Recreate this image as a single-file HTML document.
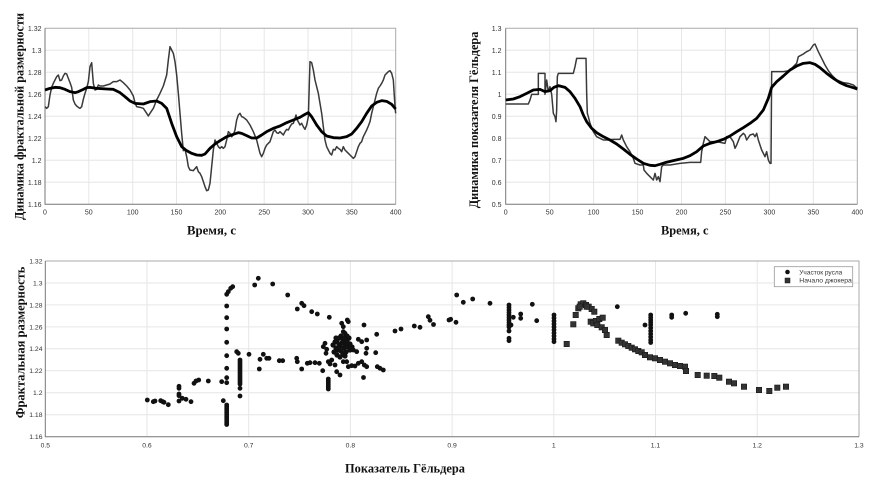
<!DOCTYPE html>
<html><head><meta charset="utf-8"><style>
html,body{margin:0;padding:0;background:#fff;}
svg{display:block;}
.tk{font-family:"Liberation Sans",Arial,sans-serif;font-size:7px;fill:#333;}
.ttl{font-family:"Liberation Serif","Times New Roman",serif;font-weight:bold;font-size:13px;fill:#111;}
.g{stroke:#e6e6e6;stroke-width:1;fill:none;}
.ln{vector-effect:non-scaling-stroke;fill:none;stroke-linejoin:round;}
</style></head><body>
<svg width="870" height="488" viewBox="0 0 870 488" xmlns="http://www.w3.org/2000/svg">
<rect width="870" height="488" fill="#fff"/>

<!-- ===== Top-left chart ===== -->
<g class="g">
<path d="M88.8 28.3V204.3M132.7 28.3V204.3M176.5 28.3V204.3M220.3 28.3V204.3M264.2 28.3V204.3M308 28.3V204.3M351.8 28.3V204.3"/>
<path d="M45 50.3H395.7M45 72.3H395.7M45 94.3H395.7M45 116.3H395.7M45 138.3H395.7M45 160.3H395.7M45 182.3H395.7"/>
</g>
<path d="M45 28.3H395.7V204.3" fill="none" stroke="#aaa" stroke-width="1"/>
<path d="M45 28.3V204.3H395.7" fill="none" stroke="#777" stroke-width="1"/>
<g class="tk" text-anchor="end">
<text x="41.5" y="30.8">1.32</text><text x="41.5" y="52.8">1.3</text><text x="41.5" y="74.8">1.28</text><text x="41.5" y="96.8">1.26</text><text x="41.5" y="118.8">1.24</text><text x="41.5" y="140.8">1.22</text><text x="41.5" y="162.8">1.2</text><text x="41.5" y="184.8">1.18</text><text x="41.5" y="206.8">1.16</text>
</g>
<g class="tk" text-anchor="middle">
<text x="45" y="214.5">0</text><text x="88.8" y="214.5">50</text><text x="132.7" y="214.5">100</text><text x="176.5" y="214.5">150</text><text x="220.3" y="214.5">200</text><text x="264.2" y="214.5">250</text><text x="308" y="214.5">300</text><text x="351.8" y="214.5">350</text><text x="395.7" y="214.5">400</text>
</g>
<text class="ttl" x="187" y="234.5" textLength="49" lengthAdjust="spacingAndGlyphs">Время, с</text>
<text class="ttl" transform="translate(23.5,220) rotate(-90)" x="0" y="0" textLength="207" lengthAdjust="spacingAndGlyphs">Динамика фрактальной размерности</text>

<g transform="scale(0.333333)">
<polyline class="ln" stroke="#3a3a3a" stroke-width="1.5" points="135,320 140,325 145,320 150,285 155,262 160,250 165,240 170,230 175,225 180,242 185,240 190,228 195,220 200,222 205,235 210,248 215,262 220,300 225,312 230,318 235,322 240,325 245,320 250,298 255,280 260,265 265,245 270,200 275,188 280,250 285,270 290,268 295,255 300,258 310,258 320,255 330,252 340,245 350,245 360,240 370,248 380,258 390,270 400,288 405,308 410,320 420,322 430,325 440,340 445,348 450,340 460,325 470,300 480,280 490,258 500,225 505,180 510,140 515,150 520,160 525,185 530,225 535,280 540,340 545,400 550,452 555,448 560,470 565,500 570,510 580,512 590,500 595,515 600,520 605,530 610,545 615,560 620,572 625,570 630,550 635,500 640,450 645,420 650,430 655,440 660,445 665,440 670,445 675,440 680,420 685,395 690,400 695,410 700,405 705,390 710,360 715,345 720,340 725,350 730,352 740,360 750,375 760,395 770,420 775,440 780,460 785,470 790,460 795,445 800,435 805,430 810,425 815,410 820,395 825,390 830,398 835,400 840,395 845,400 850,405 855,395 860,388 865,390 870,380 875,372 880,370 885,355 888,345 892,360 900,375 905,370 910,380 915,388 920,375 925,350 928,250 930,185 935,188 940,210 945,240 950,260 955,280 960,310 965,340 970,380 975,420 980,440 985,450 990,460 995,465 1000,448 1005,450 1010,440 1015,445 1020,448 1025,455 1030,440 1035,450 1040,455 1045,460 1050,465 1055,470 1060,475 1065,470 1070,455 1075,440 1080,430 1085,425 1090,410 1095,400 1100,390 1105,378 1110,365 1115,340 1120,320 1125,300 1130,280 1135,265 1140,258 1145,250 1150,240 1155,225 1160,220 1165,215 1170,212 1175,220 1180,240 1185,320 1187,340"/>
<polyline class="ln" stroke="#000" stroke-width="2.8" points="135,270 150,265 165,262 180,263 195,268 210,275 225,278 235,275 250,268 260,263 270,262 290,265 320,267 340,268 360,278 375,290 390,303 405,310 430,312 450,305 470,303 485,310 500,325 515,370 530,410 545,440 560,452 575,460 590,465 605,466 615,462 630,445 645,432 660,422 680,410 700,403 715,398 725,400 740,407 755,414 770,414 785,405 800,395 820,385 840,378 860,368 880,360 900,352 915,343 925,338 935,350 950,375 965,395 980,408 1000,413 1020,414 1040,410 1055,402 1070,385 1085,365 1100,340 1115,318 1130,307 1145,302 1160,304 1175,313 1187,327"/>
</g>

<!-- ===== Top-right chart ===== -->
<g class="g">
<path d="M549.7 28.3V204.3M593.6 28.3V204.3M637.6 28.3V204.3M681.5 28.3V204.3M725.4 28.3V204.3M769.4 28.3V204.3M813.3 28.3V204.3"/>
<path d="M505.7 50.3H857.3M505.7 72.3H857.3M505.7 94.3H857.3M505.7 116.3H857.3M505.7 138.3H857.3M505.7 160.3H857.3M505.7 182.3H857.3"/>
</g>
<path d="M505.7 28.3H857.3V204.3" fill="none" stroke="#aaa" stroke-width="1"/>
<path d="M505.7 28.3V204.3H857.3" fill="none" stroke="#777" stroke-width="1"/>
<g class="tk" text-anchor="end">
<text x="501.5" y="30.8">1.3</text><text x="501.5" y="52.8">1.2</text><text x="501.5" y="74.8">1.1</text><text x="501.5" y="96.8">1</text><text x="501.5" y="118.8">0.9</text><text x="501.5" y="140.8">0.8</text><text x="501.5" y="162.8">0.7</text><text x="501.5" y="184.8">0.6</text><text x="501.5" y="206.8">0.5</text>
</g>
<g class="tk" text-anchor="middle">
<text x="505.7" y="214.5">0</text><text x="549.7" y="214.5">50</text><text x="593.6" y="214.5">100</text><text x="637.6" y="214.5">150</text><text x="681.5" y="214.5">200</text><text x="725.4" y="214.5">250</text><text x="769.4" y="214.5">300</text><text x="813.3" y="214.5">350</text><text x="857.3" y="214.5">400</text>
</g>
<text class="ttl" x="661" y="234.5" textLength="47.5" lengthAdjust="spacingAndGlyphs">Время, с</text>
<text class="ttl" transform="translate(478,208.3) rotate(-90)" x="0" y="0" textLength="176.7" lengthAdjust="spacingAndGlyphs">Динамика показателя Гёльдера</text>

<g transform="translate(450,0) scale(0.333333)">
<polyline class="ln" stroke="#3a3a3a" stroke-width="1.5" points="167,312 235,312 240,300 245,283 265,283 265,220 285,220 285,283 290,240 295,275 300,260 305,283 310,340 315,350 318,365 320,330 322,230 325,220 370,220 375,200 380,175 405,175 408,175 410,280 412,340 415,350 420,370 430,395 440,410 450,415 460,420 475,420 490,418 510,418 515,405 520,420 530,440 540,455 550,475 555,490 570,495 580,495 582,510 590,520 600,530 610,540 615,520 620,540 625,530 630,545 635,500 640,495 660,495 690,490 720,487 752,487 755,455 760,430 765,410 770,415 780,425 800,425 825,430 830,410 840,410 850,425 855,445 860,435 870,410 880,400 885,405 890,420 900,405 910,402 915,410 920,400 925,420 935,450 945,470 950,455 955,480 960,490 963,490 965,215 1000,215 1020,212 1030,200 1040,190 1045,170 1060,162 1070,155 1080,150 1090,135 1095,132 1105,155 1115,175 1125,195 1135,212 1145,225 1160,240 1180,248 1195,250 1210,255 1222,265"/>
<polyline class="ln" stroke="#000" stroke-width="2.8" points="167,300 190,297 210,290 230,280 250,270 270,268 285,275 300,272 312,262 325,257 345,262 360,275 375,295 390,320 400,345 410,365 425,385 440,398 460,410 480,420 500,432 520,447 540,463 560,477 580,490 600,496 615,497 630,493 645,488 670,482 700,475 720,467 740,455 760,438 780,430 800,425 820,418 840,408 860,395 880,383 900,370 920,355 940,330 955,295 965,262 980,245 1000,228 1020,210 1040,198 1060,190 1080,188 1095,193 1110,203 1130,220 1150,235 1170,248 1190,257 1210,263 1222,267"/>
</g>

<!-- ===== Bottom scatter chart ===== -->
<g class="g">
<path d="M147 261V436.7M248.7 261V436.7M350.4 261V436.7M452.1 261V436.7M553.8 261V436.7M655.5 261V436.7M757.2 261V436.7"/>
<path d="M45.3 283H859M45.3 304.9H859M45.3 326.9H859M45.3 348.8H859M45.3 370.8H859M45.3 392.8H859M45.3 414.7H859"/>
</g>
<path d="M45.3 261H859V436.7" fill="none" stroke="#aaa" stroke-width="1"/>
<path d="M45.3 261V436.7H859" fill="none" stroke="#777" stroke-width="1"/>
<g class="tk" text-anchor="end" style="font-size:6.8px">
<text x="42.5" y="263.4">1.32</text><text x="42.5" y="285.4">1.3</text><text x="42.5" y="307.3">1.28</text><text x="42.5" y="329.3">1.26</text><text x="42.5" y="351.2">1.24</text><text x="42.5" y="373.2">1.22</text><text x="42.5" y="395.2">1.2</text><text x="42.5" y="417.1">1.18</text><text x="42.5" y="439.1">1.16</text>
</g>
<g class="tk" text-anchor="middle" style="font-size:6.8px">
<text x="45.3" y="447.5">0.5</text><text x="147" y="447.5">0.6</text><text x="248.7" y="447.5">0.7</text><text x="350.4" y="447.5">0.8</text><text x="452.1" y="447.5">0.9</text><text x="553.8" y="447.5">1</text><text x="655.5" y="447.5">1.1</text><text x="757.2" y="447.5">1.2</text><text x="859" y="447.5">1.3</text>
</g>
<text class="ttl" x="345" y="472.5" textLength="120" lengthAdjust="spacingAndGlyphs">Показатель Гёльдера</text>
<text class="ttl" transform="translate(24.5,418.3) rotate(-90)" x="0" y="0" textLength="151.7" lengthAdjust="spacingAndGlyphs">Фрактальная размерность</text>

<!-- circles -->
<g fill="#111">
<circle cx="147.3" cy="400" r="2.4"/><circle cx="153.3" cy="401.7" r="2.4"/><circle cx="155" cy="401" r="2.4"/><circle cx="160.7" cy="400.7" r="2.4"/><circle cx="162.7" cy="401.7" r="2.4"/><circle cx="164" cy="402.3" r="2.4"/><circle cx="168.3" cy="404.7" r="2.4"/>
<circle cx="179" cy="386.3" r="2.4"/><circle cx="179" cy="388.3" r="2.4"/><circle cx="179" cy="394" r="2.4"/><circle cx="179" cy="395.7" r="2.4"/><circle cx="179" cy="401" r="2.4"/><circle cx="182.3" cy="398.3" r="2.4"/><circle cx="186" cy="399.3" r="2.4"/><circle cx="191" cy="401.7" r="2.4"/>
<circle cx="194" cy="383.3" r="2.4"/><circle cx="196" cy="381" r="2.4"/><circle cx="198.7" cy="380" r="2.4"/><circle cx="208.3" cy="381" r="2.4"/><circle cx="221.7" cy="381.7" r="2.4"/>
<circle cx="226.7" cy="377.7" r="2.4"/><circle cx="226.7" cy="382.7" r="2.4"/><circle cx="226.7" cy="368.3" r="2.4"/><circle cx="226.7" cy="355.7" r="2.4"/><circle cx="226.7" cy="342.3" r="2.4"/><circle cx="226.7" cy="329" r="2.4"/><circle cx="226.7" cy="317.7" r="2.4"/><circle cx="226.7" cy="306" r="2.4"/><circle cx="226.7" cy="294.3" r="2.4"/><circle cx="228.3" cy="291.7" r="2.4"/><circle cx="230.7" cy="288.3" r="2.4"/><circle cx="232.7" cy="286.7" r="2.4"/><circle cx="223.3" cy="400.7" r="2.4"/>
<circle cx="226.7" cy="405" r="2.4"/><circle cx="226.7" cy="407" r="2.4"/><circle cx="226.7" cy="409" r="2.4"/><circle cx="226.7" cy="411" r="2.4"/><circle cx="226.7" cy="413" r="2.4"/><circle cx="226.7" cy="415" r="2.4"/><circle cx="226.7" cy="417" r="2.4"/><circle cx="226.7" cy="419" r="2.4"/><circle cx="226.7" cy="421" r="2.4"/><circle cx="226.7" cy="423" r="2.4"/><circle cx="226.7" cy="424.5" r="2.4"/>
<circle cx="236.7" cy="351.7" r="2.4"/><circle cx="238.3" cy="353.3" r="2.4"/>
<circle cx="240" cy="360" r="2.4"/><circle cx="240" cy="362" r="2.4"/><circle cx="240" cy="364" r="2.4"/><circle cx="240" cy="366" r="2.4"/><circle cx="240" cy="368" r="2.4"/><circle cx="240" cy="370" r="2.4"/><circle cx="240" cy="372" r="2.4"/><circle cx="240" cy="374" r="2.4"/><circle cx="240" cy="376" r="2.4"/><circle cx="240" cy="378" r="2.4"/><circle cx="240" cy="380" r="2.4"/><circle cx="240" cy="382" r="2.4"/><circle cx="240" cy="384" r="2.4"/>
<circle cx="240" cy="388.3" r="2.4"/><circle cx="240" cy="396" r="2.4"/><circle cx="249" cy="354.3" r="2.4"/><circle cx="254.7" cy="285" r="2.4"/><circle cx="258.3" cy="278.3" r="2.4"/><circle cx="272.7" cy="284" r="2.4"/><circle cx="287.7" cy="295" r="2.4"/><circle cx="260" cy="359.3" r="2.4"/><circle cx="259.3" cy="369" r="2.4"/><circle cx="263.3" cy="354.3" r="2.4"/><circle cx="266.7" cy="358.3" r="2.4"/><circle cx="269" cy="358.3" r="2.4"/><circle cx="279.3" cy="360.7" r="2.4"/><circle cx="282.7" cy="360.7" r="2.4"/>
<!-- middle -->
<circle cx="297.3" cy="309" r="2.4"/><circle cx="301.7" cy="303.3" r="2.4"/><circle cx="304" cy="305.7" r="2.4"/><circle cx="311.7" cy="311.7" r="2.4"/><circle cx="317.3" cy="314" r="2.4"/><circle cx="329.3" cy="317.3" r="2.4"/>
<circle cx="341.7" cy="323.3" r="2.4"/><circle cx="343.3" cy="326.7" r="2.4"/><circle cx="347.3" cy="320" r="2.4"/><circle cx="348.3" cy="321.7" r="2.4"/><circle cx="343.3" cy="331.7" r="2.4"/><circle cx="345" cy="333.3" r="2.4"/><circle cx="364" cy="325" r="2.4"/><circle cx="376.7" cy="334.3" r="2.4"/>
<circle cx="395" cy="331" r="2.4"/><circle cx="401" cy="329" r="2.4"/><circle cx="414.3" cy="326" r="2.4"/><circle cx="420" cy="327.3" r="2.4"/><circle cx="428.3" cy="316.7" r="2.4"/><circle cx="430" cy="320.3" r="2.4"/><circle cx="433.5" cy="324.5" r="2.4"/>
<circle cx="333" cy="345" r="2.6"/><circle cx="335" cy="342" r="2.6"/><circle cx="337" cy="340" r="2.6"/><circle cx="339" cy="338" r="2.6"/><circle cx="341" cy="336" r="2.6"/><circle cx="343" cy="340" r="2.6"/><circle cx="345" cy="344" r="2.6"/><circle cx="347" cy="341" r="2.6"/><circle cx="349" cy="338" r="2.6"/><circle cx="336" cy="348" r="2.6"/><circle cx="338" cy="350" r="2.6"/><circle cx="340" cy="346" r="2.6"/><circle cx="342" cy="343" r="2.6"/><circle cx="344" cy="348" r="2.6"/><circle cx="346" cy="352" r="2.6"/><circle cx="348" cy="347" r="2.6"/><circle cx="350" cy="344" r="2.6"/><circle cx="334" cy="352" r="2.6"/><circle cx="337" cy="355" r="2.6"/><circle cx="340" cy="357" r="2.6"/><circle cx="343" cy="354" r="2.6"/><circle cx="341" cy="351" r="2.6"/><circle cx="345" cy="356" r="2.6"/><circle cx="339" cy="344" r="2.6"/><circle cx="347" cy="336" r="2.6"/><circle cx="350" cy="350" r="2.6"/><circle cx="352" cy="347" r="2.6"/><circle cx="344" cy="338" r="2.6"/><circle cx="336" cy="338" r="2.6"/>
<circle cx="325" cy="343.3" r="2.4"/><circle cx="323.3" cy="346.7" r="2.4"/><circle cx="326.7" cy="349.3" r="2.4"/><circle cx="326" cy="353.3" r="2.4"/><circle cx="358.3" cy="339.3" r="2.4"/><circle cx="361.7" cy="341.7" r="2.4"/><circle cx="366.7" cy="340" r="2.4"/><circle cx="353.3" cy="350" r="2.4"/><circle cx="356.7" cy="351.7" r="2.4"/><circle cx="366.7" cy="348.3" r="2.4"/><circle cx="366" cy="353.3" r="2.4"/><circle cx="375.7" cy="352.7" r="2.4"/>
<circle cx="296.7" cy="358.3" r="2.4"/><circle cx="297.3" cy="361.7" r="2.4"/><circle cx="301.7" cy="369" r="2.4"/><circle cx="307.3" cy="363.3" r="2.4"/><circle cx="310" cy="362.7" r="2.4"/><circle cx="315" cy="362.7" r="2.4"/><circle cx="319.3" cy="363.3" r="2.4"/><circle cx="322.7" cy="370.7" r="2.4"/><circle cx="328.3" cy="361.7" r="2.4"/><circle cx="331.7" cy="360" r="2.4"/><circle cx="330" cy="364" r="2.4"/><circle cx="335" cy="365" r="2.4"/>
<circle cx="328.3" cy="379" r="2.4"/><circle cx="328.3" cy="381" r="2.4"/><circle cx="328.3" cy="383" r="2.4"/><circle cx="328.3" cy="385" r="2.4"/><circle cx="328.3" cy="387" r="2.4"/><circle cx="328.3" cy="389" r="2.4"/>
<circle cx="336.7" cy="371.7" r="2.4"/><circle cx="340" cy="375" r="2.4"/><circle cx="343.3" cy="361.7" r="2.4"/><circle cx="346.7" cy="361.7" r="2.4"/><circle cx="348.3" cy="366.7" r="2.4"/><circle cx="351.7" cy="365.7" r="2.4"/><circle cx="355" cy="366" r="2.4"/><circle cx="358.3" cy="363.3" r="2.4"/><circle cx="361.7" cy="361.7" r="2.4"/><circle cx="364.3" cy="365" r="2.4"/><circle cx="366.7" cy="366.7" r="2.4"/><circle cx="363.5" cy="377.5" r="2.4"/><circle cx="377.3" cy="366.7" r="2.4"/><circle cx="380" cy="368.3" r="2.4"/><circle cx="383.3" cy="370" r="2.4"/>
<!-- right circles -->
<circle cx="456.7" cy="295" r="2.4"/><circle cx="463.3" cy="302.3" r="2.4"/><circle cx="472.7" cy="299" r="2.4"/><circle cx="490" cy="303.3" r="2.4"/><circle cx="449" cy="320" r="2.4"/><circle cx="450.7" cy="319.3" r="2.4"/><circle cx="456" cy="322.3" r="2.4"/>
<circle cx="509" cy="305" r="2.4"/><circle cx="509" cy="307.5" r="2.4"/><circle cx="509" cy="310" r="2.4"/><circle cx="509" cy="312.5" r="2.4"/><circle cx="509" cy="315" r="2.4"/><circle cx="509" cy="317.5" r="2.4"/><circle cx="509" cy="320" r="2.4"/><circle cx="509" cy="322.5" r="2.4"/><circle cx="509" cy="325" r="2.4"/><circle cx="509" cy="327" r="2.4"/><circle cx="509" cy="331" r="2.4"/><circle cx="509" cy="338.3" r="2.4"/><circle cx="509" cy="340.7" r="2.4"/>
<circle cx="513.3" cy="317.3" r="2.4"/><circle cx="511" cy="325" r="2.4"/><circle cx="520.7" cy="314" r="2.4"/><circle cx="520.7" cy="318.3" r="2.4"/><circle cx="532.3" cy="304.3" r="2.4"/><circle cx="536.7" cy="320.7" r="2.4"/>
<circle cx="554" cy="315" r="2.4"/><circle cx="554" cy="318" r="2.4"/><circle cx="554" cy="321" r="2.4"/><circle cx="554" cy="324" r="2.4"/><circle cx="554" cy="327" r="2.4"/><circle cx="554" cy="330" r="2.4"/><circle cx="554" cy="333" r="2.4"/><circle cx="554" cy="336" r="2.4"/><circle cx="554" cy="339" r="2.4"/><circle cx="554" cy="341.7" r="2.4"/>
<circle cx="617.3" cy="306.7" r="2.4"/><circle cx="645" cy="325" r="2.4"/>
<circle cx="650.7" cy="315" r="2.4"/><circle cx="650.7" cy="317.5" r="2.4"/><circle cx="650.7" cy="320" r="2.4"/><circle cx="650.7" cy="322.5" r="2.4"/><circle cx="650.7" cy="325" r="2.4"/><circle cx="650.7" cy="328" r="2.4"/><circle cx="650.7" cy="331" r="2.4"/><circle cx="650.7" cy="334" r="2.4"/><circle cx="650.7" cy="337" r="2.4"/><circle cx="650.7" cy="340" r="2.4"/><circle cx="650.7" cy="342.5" r="2.4"/>
<circle cx="671.7" cy="315" r="2.4"/><circle cx="671.7" cy="317.3" r="2.4"/><circle cx="685.7" cy="313.3" r="2.4"/><circle cx="717.3" cy="314.3" r="2.4"/><circle cx="717.3" cy="316.7" r="2.4"/>
</g>
<!-- squares -->
<g fill="#333" stroke="#1a1a1a" stroke-width="0.6">
<rect x="564" y="341.3" width="5.4" height="5.4"/><rect x="570.6" y="321.6" width="5.4" height="5.4"/><rect x="573" y="312.3" width="5.4" height="5.4"/>
<rect x="575.6" y="305.6" width="5.4" height="5.4"/><rect x="578" y="301.6" width="5.4" height="5.4"/><rect x="580.6" y="300.6" width="5.4" height="5.4"/><rect x="583.3" y="302.3" width="5.4" height="5.4"/><rect x="586" y="304" width="5.4" height="5.4"/><rect x="589" y="306.3" width="5.4" height="5.4"/><rect x="591.6" y="309" width="5.4" height="5.4"/><rect x="577" y="304" width="5.4" height="5.4"/><rect x="584" y="304" width="5.4" height="5.4"/>
<rect x="588" y="319" width="5.4" height="5.4"/><rect x="590.6" y="320.6" width="5.4" height="5.4"/><rect x="593.3" y="318.3" width="5.4" height="5.4"/><rect x="596.6" y="316.3" width="5.4" height="5.4"/><rect x="600" y="315" width="5.4" height="5.4"/><rect x="594.6" y="322.3" width="5.4" height="5.4"/><rect x="599" y="324.6" width="5.4" height="5.4"/><rect x="602.3" y="327.3" width="5.4" height="5.4"/><rect x="604" y="332.3" width="5.4" height="5.4"/>
<rect x="615.6" y="338" width="5.4" height="5.4"/><rect x="619" y="340" width="5.4" height="5.4"/><rect x="622.3" y="341.6" width="5.4" height="5.4"/><rect x="625.6" y="343.3" width="5.4" height="5.4"/><rect x="629" y="345" width="5.4" height="5.4"/><rect x="632.3" y="346.6" width="5.4" height="5.4"/><rect x="635.6" y="348.3" width="5.4" height="5.4"/><rect x="639" y="349.6" width="5.4" height="5.4"/><rect x="642.3" y="352.3" width="5.4" height="5.4"/><rect x="647.3" y="354.6" width="5.4" height="5.4"/><rect x="652.3" y="355.6" width="5.4" height="5.4"/><rect x="657.3" y="357.3" width="5.4" height="5.4"/><rect x="662.3" y="359" width="5.4" height="5.4"/><rect x="667.3" y="360.6" width="5.4" height="5.4"/><rect x="672.3" y="362.3" width="5.4" height="5.4"/><rect x="677.3" y="363.3" width="5.4" height="5.4"/><rect x="682.3" y="364" width="5.4" height="5.4"/><rect x="683.3" y="368.3" width="5.4" height="5.4"/>
<rect x="695" y="372.3" width="5.4" height="5.4"/><rect x="704" y="373" width="5.4" height="5.4"/><rect x="711.6" y="373.3" width="5.4" height="5.4"/><rect x="716.6" y="375" width="5.4" height="5.4"/><rect x="726.3" y="379" width="5.4" height="5.4"/><rect x="731.3" y="380.6" width="5.4" height="5.4"/><rect x="741.3" y="384" width="5.4" height="5.4"/><rect x="756.3" y="387.3" width="5.4" height="5.4"/><rect x="766.6" y="388.3" width="5.4" height="5.4"/><rect x="774.6" y="385" width="5.4" height="5.4"/><rect x="783.3" y="384" width="5.4" height="5.4"/>
</g>
<!-- legend -->
<rect x="774.3" y="266.7" width="78.4" height="20" fill="#fff" stroke="#999" stroke-width="0.8"/>
<circle cx="787.5" cy="272" r="2.3" fill="#111"/>
<rect x="785" y="278" width="5" height="5" fill="#333" stroke="#1a1a1a" stroke-width="0.5"/>
<text class="tk" x="799.3" y="274.3" style="font-size:6.5px" textLength="43" lengthAdjust="spacingAndGlyphs">Участок русла</text>
<text class="tk" x="799.3" y="282.6" style="font-size:6.5px" textLength="52.5" lengthAdjust="spacingAndGlyphs">Начало джокера</text>
</svg>
</body></html>
